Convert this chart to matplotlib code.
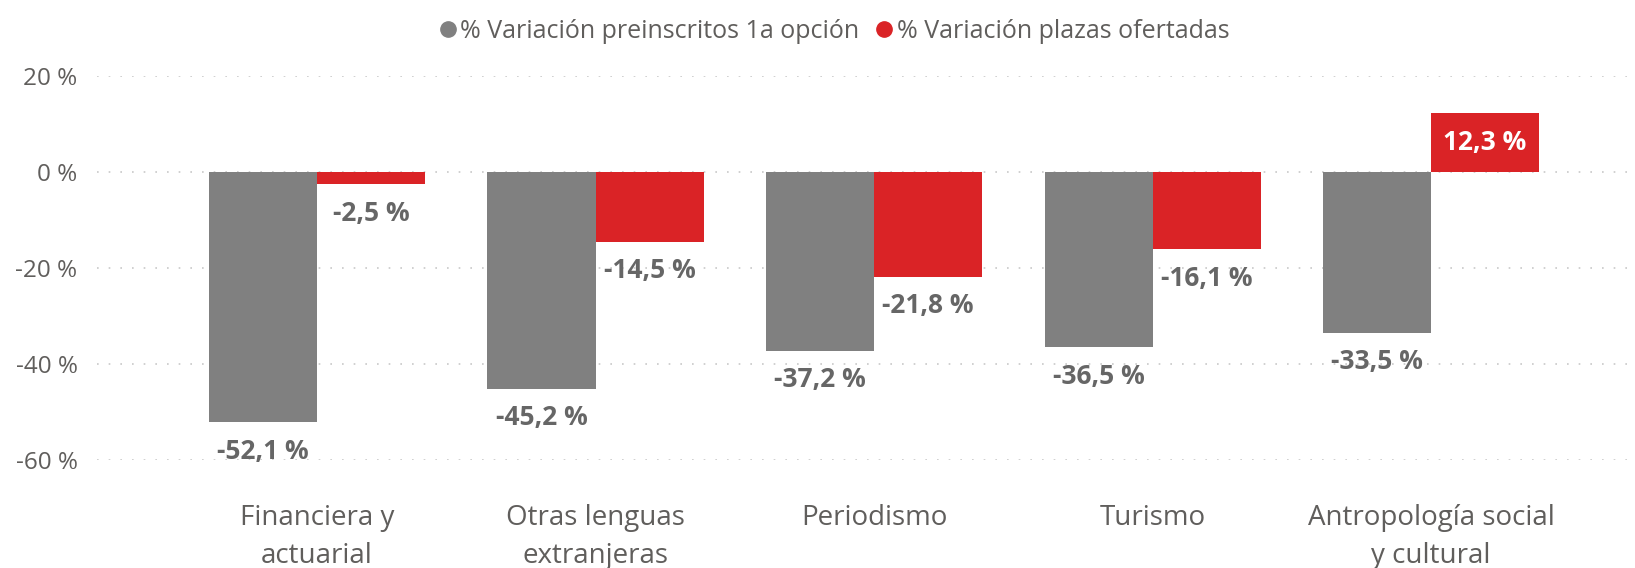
import numpy as np
from matplotlib import pyplot as plt
from matplotlib.lines import Line2D

categories = ['Financiera y\nactuarial', 'Otras lenguas\nextranjeras', 'Periodismo',
              'Turismo', 'Antropología social\ny cultural']
preinscritos = [-52.1, -45.2, -37.2, -36.5, -33.5]
plazas = [-2.5, -14.5, -21.8, -16.1, 12.3]
y_ticks = [20, 0, -20, -40, -60]

gray = '#808080'
red = '#DA2326'
text_col = '#605E5C'
label_col = '#666666'

plt.rcParams['font.family'] = ['Open Sans', 'DejaVu Sans']

fig = plt.figure(figsize=(16.35, 5.68), dpi=100)
ax = fig.add_axes([97 / 1635, 1 - 460 / 568, (1628 - 97) / 1635, (460 - 76) / 568])

x = np.arange(len(categories))
w = 0.388
b1 = ax.bar(x - w / 2, preinscritos, w, color=gray, zorder=2)
b2 = ax.bar(x + w / 2, plazas, w, color=red, zorder=2)

ax.set_ylim(-60, 20)
ax.set_xlim(-0.79, 4.707)
ax.set_yticks(y_ticks)
ax.set_yticklabels([f'{t} %' for t in y_ticks])
ax.tick_params(axis='y', length=0, pad=14, labelsize=17.5, labelcolor=text_col)
ax.set_xticks(x)
ax.set_xticklabels(categories, linespacing=1.45)
ax.tick_params(axis='x', length=0, pad=32, labelsize=20, labelcolor=text_col)
ax.grid(axis='y', color='#c8c8c8', linewidth=1.2, linestyle=(0, (1, 6)), zorder=0)
for s in ax.spines.values():
    s.set_visible(False)


def label_bars(bars, vals):
    for rect, v in zip(bars, vals):
        cx = rect.get_x() + rect.get_width() / 2
        txt = f'{v:.1f} %'.replace('.', ',')
        if v < 0:
            ax.annotate(txt, (cx, v), xytext=(0, -29), textcoords='offset pixels',
                        ha='center', va='center', fontsize=19, fontweight='bold', color=label_col)
        else:
            ax.text(cx, v / 2, txt, ha='center', va='center', fontsize=19,
                    fontweight='bold', color='white')


label_bars(b1, preinscritos)
label_bars(b2, plazas)

handles = [Line2D([], [], marker='o', linestyle='', color=gray, markersize=11),
           Line2D([], [], marker='o', linestyle='', color=red, markersize=11)]
fig.legend(handles, ['% Variación preinscritos 1a opción', '% Variación plazas ofertadas'],
           loc='center', bbox_to_anchor=(0.509, 1 - 31 / 568), ncol=2, frameon=False,
           fontsize=18, labelcolor=text_col, handletextpad=0.0, columnspacing=0.5,
           handlelength=1.0)

fig.savefig('out.png', dpi=100)
